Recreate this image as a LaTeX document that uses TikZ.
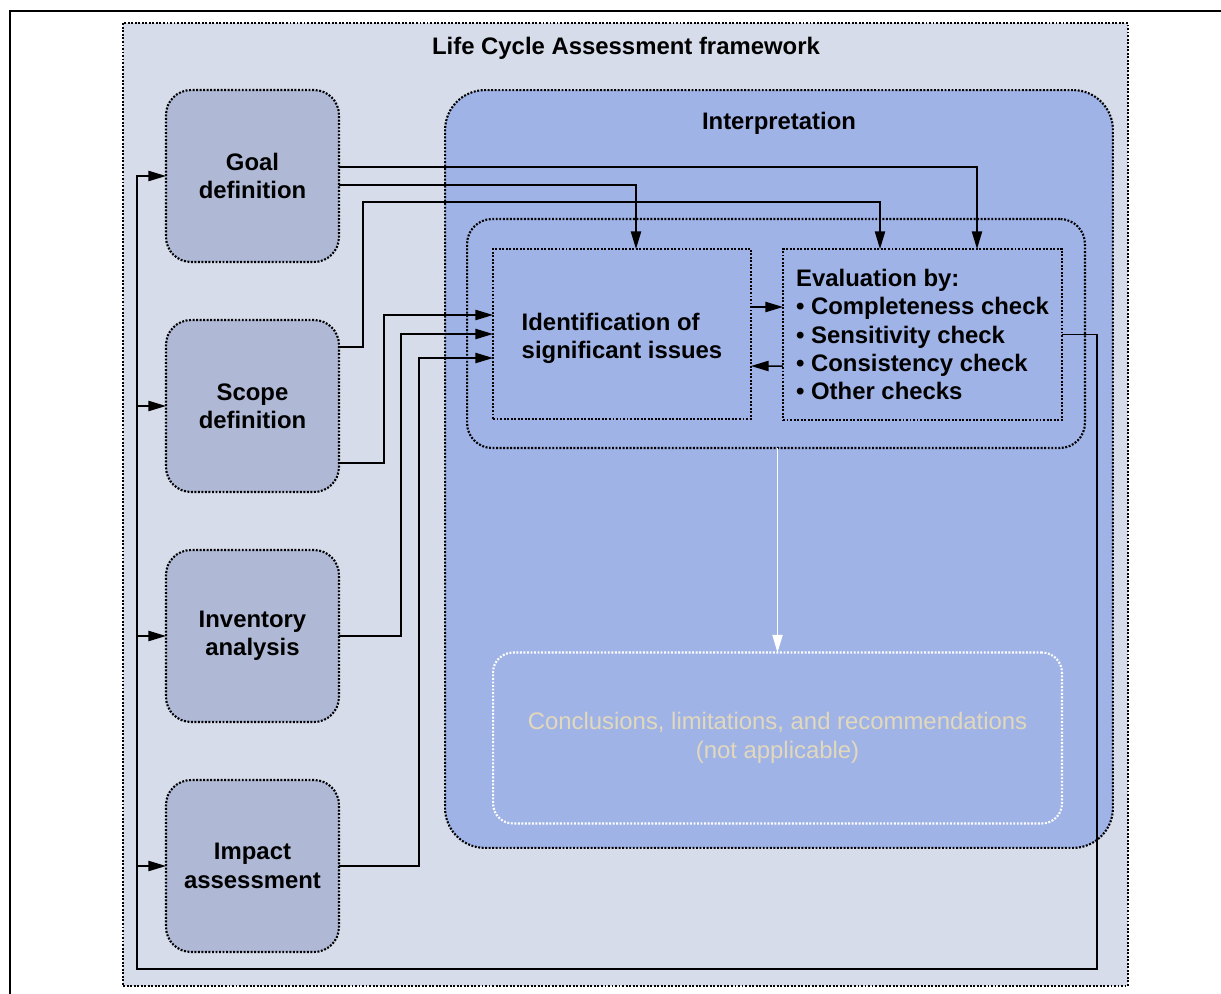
\documentclass[tikz,border=0pt]{standalone}
\usepackage{fontspec}
\setmainfont{Liberation Sans}
\usetikzlibrary{positioning,calc,arrows.meta}

\definecolor{fwfill}{RGB}{214,220,234}
\definecolor{phasefill}{RGB}{175,185,214}
\definecolor{interpfill}{RGB}{160,179,230}
\definecolor{nacolor}{RGB}{226,216,188}

\tikzset{
  dotline/.style={line width=1.2pt, dash pattern=on 1.1pt off 0.9pt},
  boldtext/.style={font=\bfseries\fontsize{13.6}{16.1}\selectfont},
  phase/.style={dotline, draw=black, fill=phasefill, rounded corners=0.5cm,
    minimum width=3.46cm, minimum height=3.44cm, align=center,
    inner sep=0pt, outer sep=0pt, boldtext},
  checkbox/.style={dotline, draw=black, minimum height=3.42cm, align=left,
    inner sep=0pt, outer sep=0pt, boldtext},
  arr/.style={line width=0.85pt, -{Triangle[length=10pt,width=5.8pt]}}
}

\begin{document}
\begin{tikzpicture}[x=0.02cm, y=-0.02cm]
\useasboundingbox (0,0) rectangle (1221,994);

% outer frame of the page
\draw[line width=1.1pt] (10,994) |- (1221,11);

% framework box
\node[dotline, draw=black, fill=fwfill, minimum width=20.1cm, minimum height=19.26cm,
      inner sep=0pt] (frame) at (625.5,504.5) {};
\node[boldtext] (frametitle) at (626,48) {Life Cycle Assessment framework};

% interpretation phase
\node[dotline, draw=black, fill=interpfill, rounded corners=0.8cm,
      minimum width=13.36cm, minimum height=15.16cm, inner sep=0pt] (interp) at (779,469) {};
\node[boldtext] (interptitle) at (779,123) {Interpretation};
\node[dotline, draw=black, rounded corners=0.5cm, minimum width=12.36cm,
      minimum height=4.58cm, inner sep=0pt, outer sep=0pt] (inner) at (776,333.5) {};
\node[checkbox, minimum width=5.16cm, minimum height=3.4cm] (ident) at (622,334)
      {\rule{0pt}{14.5pt}Identification of\\significant issues};
\node[checkbox, minimum width=5.58cm] (eval) at (922.5,334.5)
      {Evaluation by:\\• Completeness check\\• Sensitivity check\\• Consistency check\\• Other checks};
\node[dotline, draw=white, rounded corners=0.4cm, minimum width=11.38cm,
      minimum height=3.42cm, inner sep=0pt, outer sep=0pt, text=nacolor, align=center,
      font=\fontsize{13.6}{16.4}\selectfont] (concl) at (777.5,738)
      {Conclusions, limitations, and recommendations\\(not applicable)};

% the other phases
\node[phase] (goal) at (252.5,176) {Goal\\definition};
\node[phase] (scope) at (252.5,406) {Scope\\definition};
\node[phase] (inv) at (252.5,636) {Inventory\\analysis};
\node[phase] (impact) at (252.5,866) {Impact\\assessment};

% phases into interpretation
\draw[arr] ($(goal.east)+(0,-9)$) -| ($(eval.north)+(54.5,0)$);
\draw[arr] ($(goal.east)+(0,9)$) -| ($(ident.north)+(14,0)$);
\draw[arr] ($(scope.east)+(0,-59)$) -- ++(24,0) |- ($(eval.north)+(-42.5,-47)$)
    -- ($(eval.north)+(-42.5,0)$);
\draw[arr] ($(scope.east)+(0,57)$) -- ++(45,0) |- ($(ident.west)+(0,-19)$);
\draw[arr] (inv.east) -- ++(62,0) |- (ident.west);
\draw[arr] (impact.east) -- ++(80,0) |- ($(ident.west)+(0,24)$);

% iteration inside interpretation
\draw[arr] ($(ident.east)+(0,-27)$) -- ($(eval.west)+(0,-27.5)$);
\draw[arr] ($(eval.west)+(0,31.5)$) -- ($(ident.east)+(0,32)$);
\draw[arr, white, line width=0.7pt] (inner.south -| concl.north) -- (concl.north);

% feedback to all phases
\draw[arr] (eval.east) -- ++(35,0) |- ($(impact.south west)+(-29,17)$) |- (goal.west);
\draw[arr] ($(scope.west)+(-29,0)$) -- (scope.west);
\draw[arr] ($(inv.west)+(-29,0)$) -- (inv.west);
\draw[arr] ($(impact.west)+(-29,0)$) -- (impact.west);

\end{tikzpicture}
\end{document}
